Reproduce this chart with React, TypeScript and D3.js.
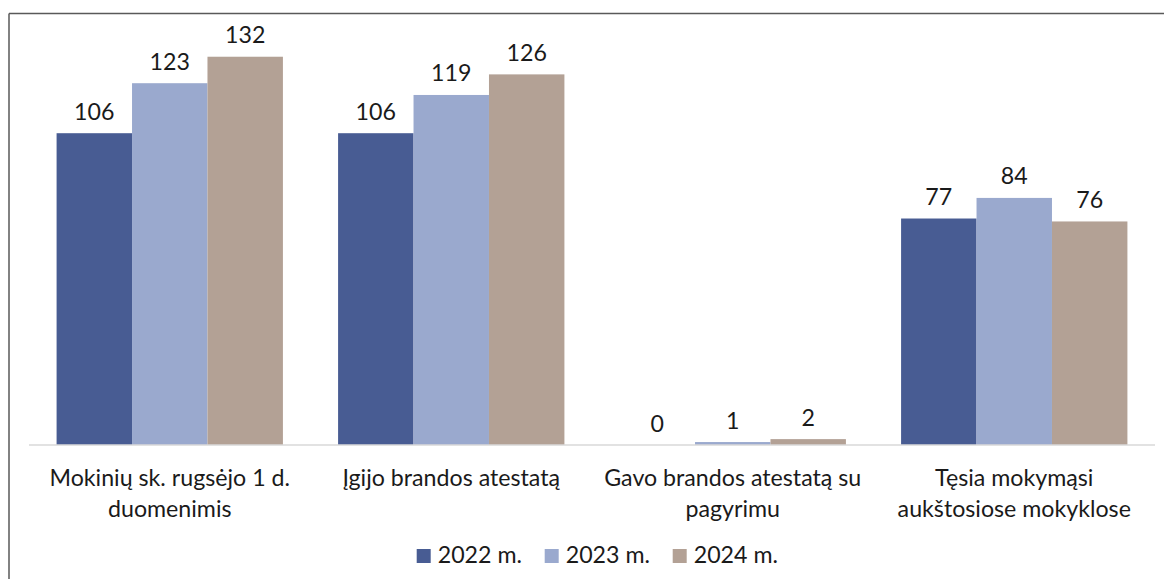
import React from "react";
import * as d3 from "d3";

const categories: string[][] = [
  ["Mokinių sk. rugsėjo 1 d.", "duomenimis"],
  ["Įgijo brandos atestatą"],
  ["Gavo brandos atestatą su", "pagyrimu"],
  ["Tęsia mokymąsi", "aukštosiose mokyklose"],
];
const seriesNames = ["2022 m.", "2023 m.", "2024 m."];
const values2022 = [106, 106, 0, 77];
const values2023 = [123, 119, 1, 84];
const values2024 = [132, 126, 2, 76];
const seriesValues = [values2022, values2023, values2024];
const colors = ["#485C93", "#9AA9CE", "#B3A195"];

const W = 1164;
const H = 579;
const FONT = "Lato, 'Open Sans', sans-serif";
const FS = 23.2;

export default function App() {
  const x0 = d3
    .scaleBand<number>()
    .domain(d3.range(categories.length))
    .range([29, 1155])
    .paddingInner(0.196)
    .paddingOuter(0.098);
  const x1 = d3
    .scaleBand<number>()
    .domain(d3.range(seriesNames.length))
    .range([0, x0.bandwidth()])
    .padding(0);
  const y = d3.scaleLinear().domain([0, 140]).range([445, 33.2]);

  const legendStep = 128;
  const legendStart = 416.7;

  return (
    <svg
      width={W}
      height={H}
      style={{ position: "absolute", left: 0, top: 0, background: "#fff" }}
      fontFamily={FONT}
    >
      <line x1={9} y1={13.5} x2={W} y2={13.5} stroke="#595959" strokeWidth={1.5} />
      <line x1={9} y1={13.5} x2={9} y2={H} stroke="#595959" strokeWidth={1.5} />
      {categories.map((_, ci) => (
        <g key={ci} transform={`translate(${x0(ci)},0)`}>
          {seriesValues.map((vals, si) => (
            <g key={si}>
              <rect
                x={x1(si)}
                y={y(vals[ci])}
                width={x1.bandwidth()}
                height={y(0) - y(vals[ci])}
                fill={colors[si]}
              />
              <text
                x={(x1(si) as number) + x1.bandwidth() / 2}
                y={y(vals[ci]) - 13.5}
                textAnchor="middle"
                fontSize={FS}
                fill="#1a1a1a"
              >
                {vals[ci]}
              </text>
            </g>
          ))}
        </g>
      ))}
      <line x1={29} x2={1155} y1={y(0)} y2={y(0)} stroke="#D9D9D9" strokeWidth={1.5} />
      {categories.map((lines, ci) => (
        <text
          key={ci}
          x={(x0(ci) as number) + x0.bandwidth() / 2}
          textAnchor="middle"
          fontSize={FS}
          fill="#1a1a1a"
        >
          {lines.map((ln, li) => (
            <tspan key={li} x={(x0(ci) as number) + x0.bandwidth() / 2} y={485.7 + li * 31}>
              {ln}
            </tspan>
          ))}
        </text>
      ))}
      {seriesNames.map((name, si) => (
        <g key={si} transform={`translate(${legendStart + si * legendStep},0)`}>
          <rect x={0} y={549} width={14} height={14} fill={colors[si]} />
          <text x={21} y={563} fontSize={FS} fill="#1a1a1a">
            {name}
          </text>
        </g>
      ))}
    </svg>
  );
}
